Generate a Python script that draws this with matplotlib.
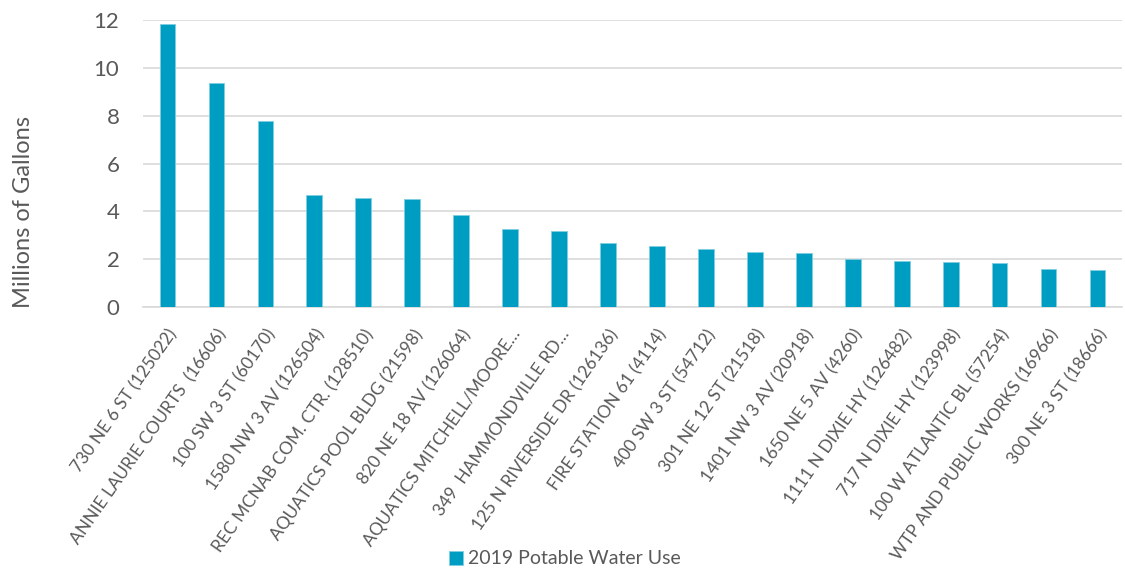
import matplotlib
matplotlib.use("Agg")
import matplotlib.pyplot as plt
import numpy as np

# === DATA ===
sites = [
    "730 NE 6 ST (125022)",
    "ANNIE LAURIE COURTS  (16606)",
    "100 SW 3 ST (60170)",
    "1580 NW 3 AV (126504)",
    "REC MCNAB COM. CTR. (128510)",
    "AQUATICS POOL BLDG (21598)",
    "820 NE 18 AV (126064)",
    "AQUATICS MITCHELL/MOORE\u2026",
    "349  HAMMONDVILLE RD\u2026",
    "125 N RIVERSIDE DR (126136)",
    "FIRE STATION 61 (4114)",
    "400 SW 3 ST (54712)",
    "301 NE 12 ST (21518)",
    "1401 NW 3 AV (20918)",
    "1650 NE 5 AV (4260)",
    "1111 N DIXIE HY (126482)",
    "717 N DIXIE HY (123998)",
    "100 W ATLANTIC BL (57254)",
    "WTP AND PUBLIC WORKS (16966)",
    "300 NE 3 ST (18666)",
]
water_use = [11.82, 9.36, 7.79, 4.70, 4.55, 4.50, 3.85, 3.26, 3.17, 2.68,
             2.55, 2.44, 2.28, 2.25, 1.99, 1.92, 1.90, 1.82, 1.58, 1.54]
y_ticks = [0, 2, 4, 6, 8, 10, 12]

series_name = "2019 Potable Water Use"
bar_color = "#009DC3"
text_color = "#595959"
grid_color = "#D9D9D9"

plt.rcParams['font.family'] = ['Lato', 'DejaVu Sans']

fig = plt.figure(figsize=(11.25, 5.73), dpi=100)
ax = fig.add_axes([143 / 1125, 1 - 307 / 573, (1122 - 143) / 1125, (307 - 20) / 573])

x = np.arange(len(sites))
ax.bar(x, water_use, width=0.32, color=bar_color, edgecolor="#7FCDE0",
       linewidth=0.6, label=series_name, zorder=3)

ax.set_xlim(-0.5, len(sites) - 0.5)
ax.set_ylim(0, 12)
ax.set_yticks(y_ticks)
ax.yaxis.grid(True, color=grid_color, linewidth=1.2, zorder=0)
ax.set_axisbelow(True)
for side in ["top", "right", "left"]:
    ax.spines[side].set_visible(False)
ax.spines["bottom"].set_color(grid_color)
ax.spines["bottom"].set_linewidth(1.2)
ax.tick_params(axis="both", length=0, colors=text_color)
ax.tick_params(axis="y", labelsize=16, pad=17)

ax.set_xticks(x)
ax.set_xticklabels(sites, rotation=55, ha="right", va="top",
                   rotation_mode="anchor", fontsize=12.5, color=text_color)
ax.tick_params(axis="x", pad=14)

# y label sits a bit low, centred on the whole chart area like the original
ax.set_ylabel("Millions of Gallons", fontsize=17, color=text_color)
ax.yaxis.set_label_coords(-0.111, 0.33)

leg = fig.legend(loc="center", bbox_to_anchor=(565 / 1125, 1 - 559 / 573),
                 frameon=False, fontsize=14, handlelength=0.7, handleheight=0.7,
                 handletextpad=0.3)
for t in leg.get_texts():
    t.set_color(text_color)

fig.savefig("out.png", dpi=100)
